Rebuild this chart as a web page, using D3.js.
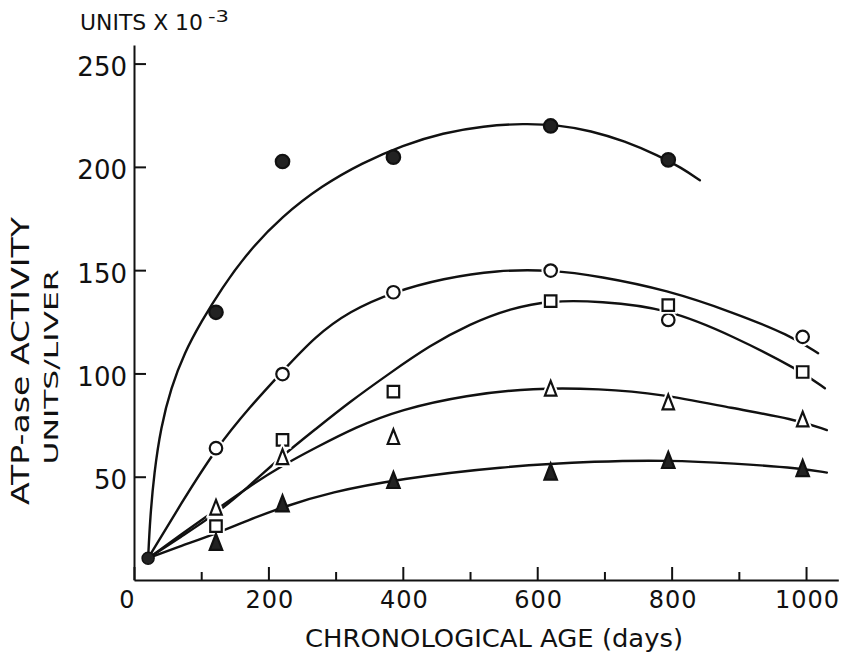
<!DOCTYPE html>
<html>
<head>
<meta charset="utf-8">
<script src="https://cdn.jsdelivr.net/npm/d3@7"></script>
<style>
  html, body { margin: 0; padding: 0; background: #fff; }
  svg { display: block; }
  text { font-family: "DejaVu Sans", sans-serif; fill: #111; }
</style>
</head>
<body>
<svg id="chart" width="846" height="659"></svg>
<script>
// Chronological age (days) at which livers were assayed
const ages = [122, 221, 386, 620, 795, 995];

// Measured ATP-ase activity, units x 10^-3 per liver
const filledCircle   = [129.6, 202.6, 204.7, 219.8, 203.4];
const openCircle     = [63.8, 99.7, 139.3, 149.8, 125.9, 117.7];
const openSquare     = [26.1, 67.8, 91.2, 135.0, 133.1, 100.7];
const openTriangle   = [35.2, 59.7, 69.4, 92.8, 86.2, 77.9];
const filledTriangle = [18.5, 37.1, 48.4, 52.5, 58.1, 54.2];

// Common starting value shared by every series
const startAge = 21;
const startValue = 10.5;

// Hand-fitted trend curves: [age, activity] knots
const fitFilledCircle = [[21,10.5],[24,30],[30,52],[40,74],[55,93],[75,110],[100,125],[130,141],[170,159],[220,176],[280,191],[340,202],[400,210.5],[460,216.5],[520,219.8],[580,221],[630,220.3],[680,217.5],[730,212.5],[780,205.5],[815,199.5],[842,193.5]];
const fitOpenCircle = [[21,10.5],[70,37],[122,63.8],[173,84],[221,101],[270,118],[320,130],[386,139.5],[460,146],[540,150],[620,150.2],[693,147],[793,140.4],[892,129.5],[976,118.5],[1018,109.8]];
const fitOpenSquare = [[21,10.5],[70,21],[120,31.5],[170,45],[220,60],[270,73],[320,86],[380,100],[440,113.5],[500,124],[560,131.5],[620,135.3],[693,135],[793,131.6],[892,118],[991,101.5],[1028,92.8]];
const fitOpenTriangle = [[21,10.5],[70,22],[120,33.5],[170,45],[221,55.5],[270,64],[330,74],[396,82.5],[495,89.6],[594,93],[693,92.6],[783,90.2],[892,83],[981,78],[1031,72.6]];
const fitFilledTriangle = [[21,10.5],[70,16.5],[118,22],[170,29],[223,35.5],[292,42.5],[396,49],[545,54.9],[693,57.6],[793,58],[892,56.5],[994,54],[1031,52]];

// Axis ticks
const xMajorTicks = [0, 200, 400, 600, 800, 1000];
const xMinorTicks = [100, 300, 500, 700, 900];
const yTicks = [50, 100, 150, 200, 250];

const svg = d3.select("#chart");

const x = d3.scaleLinear().domain([0, 1048]).range([134, 838.3]);
const y = d3.scaleLinear().domain([0, 259]).range([580, 45]);

// ---- axes ----
const xAxis = svg.append("g")
  .attr("transform", `translate(0,${y(0)})`)
  .call(d3.axisBottom(x).tickValues(xMajorTicks).tickSizeInner(-13).tickSizeOuter(0)
        .tickPadding(24).tickFormat(d3.format("d")));
xAxis.selectAll("text")
  .style("font-size", "24px")
  .attr("dy", "0")
  .attr("y", 28)
  .attr("dx", d => d === 0 ? -7 : 1)
  .style("letter-spacing", "1px");

svg.append("g")
  .attr("transform", `translate(0,${y(0)})`)
  .call(d3.axisBottom(x).tickValues(xMinorTicks).tickSizeInner(-8).tickSizeOuter(0).tickFormat(""))
  .select(".domain").remove();

const yAxis = svg.append("g")
  .attr("transform", `translate(${x(0)},0)`)
  .call(d3.axisLeft(y).tickValues(yTicks).tickSizeInner(-12).tickSizeOuter(0).tickPadding(7));
yAxis.selectAll("text")
  .style("font-size", "26px")
  .attr("dy", "0")
  .attr("y", 12);

svg.selectAll(".domain, .tick line")
  .attr("stroke", "#111")
  .attr("stroke-width", 2);
svg.selectAll(".tick text").style("fill", "#111").style("font-family", "DejaVu Sans, sans-serif");

// ---- axis titles ----
svg.append("text")
  .attr("x", 80).attr("y", 30)
  .attr("textLength", 123)
  .attr("lengthAdjust", "spacingAndGlyphs")
  .style("font-size", "21px")
  .text("UNITS X 10");
svg.append("text")
  .attr("x", 208).attr("y", 22)
  .attr("textLength", 21)
  .attr("lengthAdjust", "spacingAndGlyphs")
  .style("font-size", "15px")
  .text("-3");

svg.append("text")
  .attr("x", 494).attr("y", 647)
  .attr("text-anchor", "middle")
  .attr("textLength", 378)
  .attr("lengthAdjust", "spacingAndGlyphs")
  .style("font-size", "25px")
  .text("CHRONOLOGICAL AGE (days)");

svg.append("text")
  .attr("transform", "translate(29,361) rotate(-90)")
  .attr("text-anchor", "middle")
  .attr("textLength", 288)
  .attr("lengthAdjust", "spacingAndGlyphs")
  .style("font-size", "24px")
  .text("ATP-ase ACTIVITY");

svg.append("text")
  .attr("transform", "translate(58,367) rotate(-90)")
  .attr("text-anchor", "middle")
  .attr("textLength", 195)
  .attr("lengthAdjust", "spacingAndGlyphs")
  .style("font-size", "20px")
  .text("UNITS/LIVER");

// ---- fitted curves ----
const line = d3.line()
  .x(d => x(d[0]))
  .y(d => y(d[1]))
  .curve(d3.curveBasis);

[fitFilledCircle, fitOpenCircle, fitOpenSquare, fitOpenTriangle, fitFilledTriangle].forEach(fit => {
  svg.append("path")
    .datum(fit)
    .attr("d", line)
    .attr("fill", "none")
    .attr("stroke", "#111")
    .attr("stroke-width", 2.4)
    .attr("stroke-linecap", "round");
});

// ---- marker shapes ----
const triangleShape = {
  draw(ctx, size) {
    const w = size, h = size * 1.28;
    ctx.moveTo(0, -h / 2);
    ctx.lineTo(w / 2, h / 2);
    ctx.lineTo(-w / 2, h / 2);
    ctx.closePath();
  }
};
const squareShape = {
  draw(ctx, size) {
    const s = size / 2;
    ctx.rect(-s, -s, size, size);
  }
};
const circleShape = {
  draw(ctx, size) {
    const r = size / 2;
    ctx.moveTo(r, 0);
    ctx.arc(0, 0, r, 0, 2 * Math.PI);
  }
};

function drawMarkers(values, shape, size, filled) {
  const pts = values.map((v, i) => [ages[i], v]);
  const path = d3.symbol().type(shape).size(size);
  const g = svg.append("g");
  if (!filled) {
    // white halo so the curve breaks around the open symbols
    g.selectAll("path.halo").data(pts).join("path")
      .attr("class", "halo")
      .attr("transform", d => `translate(${x(d[0])},${y(d[1])})`)
      .attr("d", path)
      .attr("fill", "#fff")
      .attr("stroke", "#fff")
      .attr("stroke-width", 6);
  }
  g.selectAll("path.mark").data(pts).join("path")
    .attr("class", "mark")
    .attr("transform", d => `translate(${x(d[0])},${y(d[1])})`)
    .attr("d", path)
    .attr("fill", filled ? "#222" : "#fff")
    .attr("stroke", "#111")
    .attr("stroke-width", 2.2)
    .attr("stroke-linejoin", "miter");
}

drawMarkers(filledCircle, circleShape, 13.5, true);
drawMarkers(openCircle, circleShape, 12.5, false);
drawMarkers(openSquare, squareShape, 11.5, false);
drawMarkers(openTriangle, triangleShape, 11.5, false);
drawMarkers(filledTriangle, triangleShape, 12.5, true);

// shared starting point
svg.append("circle")
  .attr("cx", x(startAge)).attr("cy", y(startValue))
  .attr("r", 6)
  .attr("fill", "#222")
  .attr("stroke", "#111")
  .attr("stroke-width", 1.5);
</script>
</body>
</html>
